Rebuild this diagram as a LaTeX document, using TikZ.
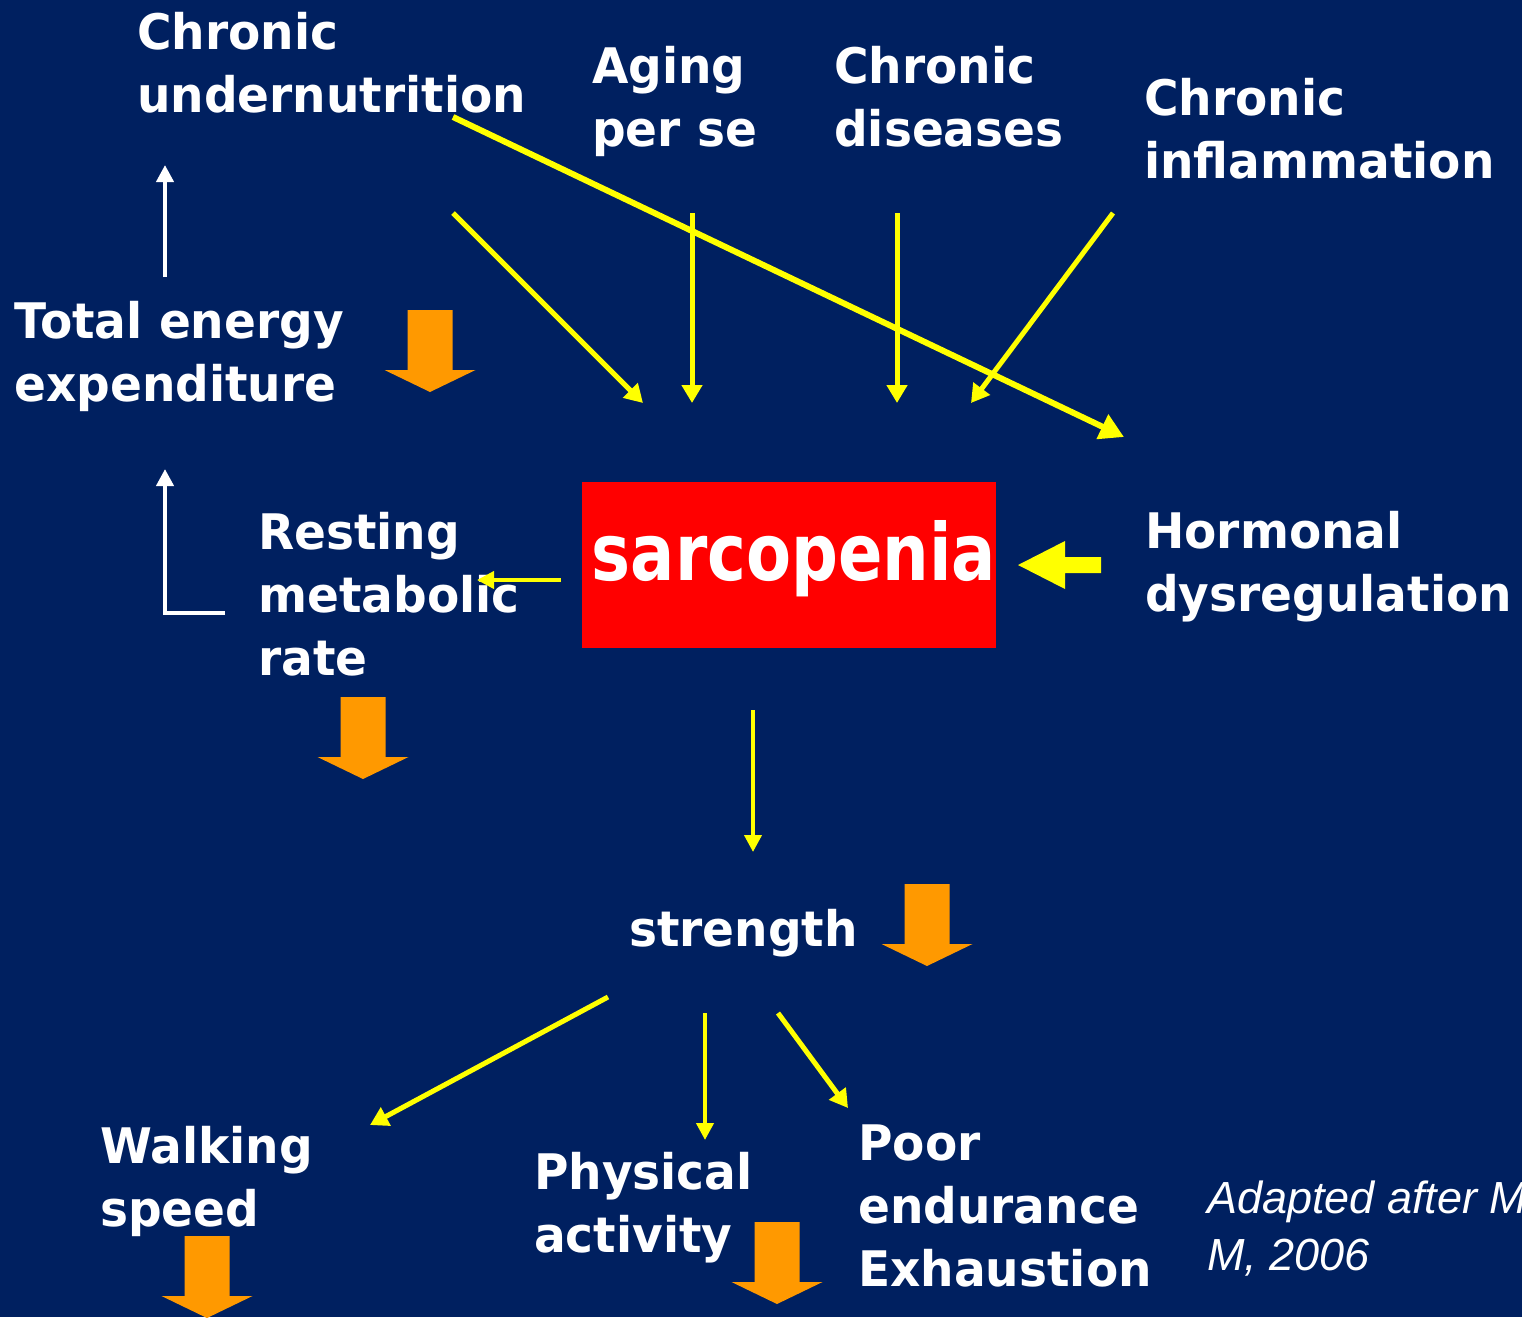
\documentclass[tikz,border=0pt]{standalone}
\usepackage{fontspec}
\setmainfont{DejaVu Sans}
\newfontfamily\lblfont{DejaVu Sans}[FakeStretch=0.96]
\newfontfamily\sarcfont{DejaVu Sans}[FakeStretch=0.83]
\newfontfamily\adfont{Liberation Sans}
\usetikzlibrary{arrows.meta}
\definecolor{bgblue}{RGB}{0,32,96}
\definecolor{orng}{RGB}{255,153,0}
\definecolor{yel}{RGB}{255,255,0}
\tikzset{
  lbl/.style={text=white, font=\lblfont\bfseries\fontsize{49}{63}\selectfont, align=left, inner sep=0pt, anchor=base west},
  yarrow/.style={draw=yel, line width=5pt, -{Triangle[length=18pt,width=20pt]}},
  ythin/.style={draw=yel, line width=4pt, -{Triangle[length=17pt,width=17pt]}},
  ythick/.style={draw=yel, line width=6pt, -{Triangle[length=24pt,width=26pt]}},
  warrow/.style={draw=white, line width=4pt, -{Triangle[length=17pt,width=17pt]}},
  downarr/.pic={\fill[orng] (-22.5,0) -- (22.5,0) -- (22.5,60) -- (45.5,60) -- (0,82) -- (-45.5,60) -- (-22.5,60) -- cycle;}
}
\begin{document}
\begin{tikzpicture}[x=1pt,y=-1pt]
\fill[bgblue] (0,0) rectangle (1522,1317);
\useasboundingbox (0,0) rectangle (1522,1317);

% labels (anchor = baseline of the last line)
\node[lbl] (under) at (137,112) {Chronic\\undernutrition};
\node[lbl] (aging) at (592,146) {Aging\\per se};
\node[lbl] (dis) at (834,146) {Chronic\\diseases};
\node[lbl] (infl) at (1144,178) {Chronic\\inflammation};
\node[lbl] (tee) at (14,401) {Total energy\\expenditure};
\node[lbl] (rmr) at (258,675) {Resting\\metabolic\\rate};
\node[lbl] (horm) at (1145,611) {Hormonal\\dysregulation};
\node[lbl] (str) at (629,946) {strength};
\node[lbl] (walk) at (100,1226) {Walking\\speed};
\node[lbl] (phys) at (534,1252) {Physical\\activity};
\node[lbl] (poor) at (858,1286) {Poor\\endurance\\Exhaustion};
\node[text=white, font=\adfont\itshape\fontsize{45}{57}\selectfont, align=left, inner sep=0pt, anchor=base west] (src) at (1207,1270) {Adapted after M\\M, 2006};

% sarcopenia box
\node[fill=red, minimum width=414pt, minimum height=166pt, inner sep=0pt] (sarc) at (789,565) {};
\node[text=white, font=\sarcfont\bfseries\fontsize{79}{90}\selectfont, inner sep=0pt, anchor=base] (sarct) at (794,580) {sarcopenia};

% coordinates
\coordinate (a1) at (453,213); \coordinate (a2) at (643,403);
\coordinate (b1) at (692,213); \coordinate (b2) at (692,403);
\coordinate (c1) at (897,213); \coordinate (c2) at (897,403);
\coordinate (d1) at (1113,213); \coordinate (d2) at (971,403);
\coordinate (e1) at (453,117); \coordinate (e2) at (1124,437);
\coordinate (f1) at (561,580); \coordinate (f2) at (477,580);
\coordinate (h1) at (753,710); \coordinate (h2) at (753,852);
\coordinate (i1) at (608,997); \coordinate (i2) at (370,1125);
\coordinate (j1) at (705,1013); \coordinate (j2) at (705,1140);
\coordinate (k1) at (778,1013); \coordinate (k2) at (848,1108);
\coordinate (w1) at (165,277); \coordinate (w2) at (165,165);
\coordinate (l0) at (225,613); \coordinate (l1) at (165,613); \coordinate (l2) at (165,469);

% yellow arrows
\draw[yarrow] (a1) -- (a2);
\draw[yarrow] (b1) -- (b2);
\draw[yarrow] (c1) -- (c2);
\draw[yarrow] (d1) -- (d2);
\draw[ythick] (e1) -- (e2);
\draw[ythin] (f1) -- (f2);
\draw[ythin] (h1) -- (h2);
\draw[yarrow] (i1) -- (i2);
\draw[ythin] (j1) -- (j2);
\draw[yarrow] (k1) -- (k2);

% hormonal block arrow
\fill[yel] (1101,557) -- (1065,557) -- (1065,541) -- (1018,565) -- (1065,589) -- (1065,573) -- (1101,573) -- cycle;

% white arrows
\draw[warrow] (w1) -- (w2);
\draw[warrow] (l0) -- (l1) -- (l2);

% orange down arrows
\pic at (430,310) {downarr};
\pic at (363,697) {downarr};
\pic at (927,884) {downarr};
\pic at (207,1236) {downarr};
\pic at (777,1222) {downarr};
\end{tikzpicture}
\end{document}
